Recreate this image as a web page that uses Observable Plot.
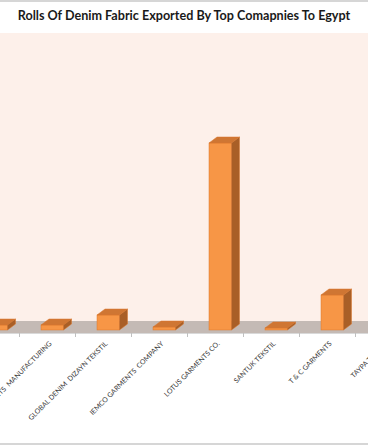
<!DOCTYPE html>
<html><head><meta charset="utf-8">
<script src="https://cdn.jsdelivr.net/npm/d3@7"></script>
<script src="https://cdn.jsdelivr.net/npm/@observablehq/plot@0.6"></script>
<style>
html,body{margin:0;padding:0;background:#fff;}
#chart{width:368px;height:445px;box-sizing:border-box;border-top:2px solid #d6d6d6;border-bottom:2px solid #d6d6d6;overflow:hidden;position:relative;background:#fff;}
#title{height:31px;box-sizing:border-box;padding-top:6px;line-height:16px;text-align:center;font:bold 12.6px Lato, sans-serif;color:#1a1a1a;white-space:nowrap;}
#chart svg{display:block;}
</style></head><body>
<div id="chart"><div id="title">Rolls Of Denim Fabric Exported By Top Comapnies To Egypt</div></div>
<script>
// categories (the chart is cropped: first and last are only partly visible)
const companies = [
  "ARTISTIC DENIM MILLS",
  "GARMENTS  MANUFACTURING",
  "GLOBAL DENIM  DIZAYN TEKSTIL",
  "IEMCO GARMENTS  COMPANY",
  "LOTUS GARMENTS CO.",
  "SANTUK TEKSTIL",
  "T & C GARMENTS",
  "TAYPA TEKSTIL"
];
// series values
const rolls = [25, 25, 75, 15, 935, 10, 175, 20];

const data = companies.map((c, i) => ({company: c, rolls: rolls[i]}));

const WALL = "#fdf0ea", FLOOR = "#c4bab5";
const FRONT = "#f79646", TOP = "#cf7633", SIDE = "#a95f27", EDGE = "#d9772c";
const INL = 22, INR = 11.5, DX = 8, DY = 6;

function scene(index, scales, values, dim) {
  const {width, height, marginBottom} = dim;
  const floorBottom = height - marginBottom;
  const floorTop = floorBottom - 12;
  const g = d3.create("svg:g");
  g.append("rect").attr("x", 0).attr("y", 0).attr("width", width).attr("height", floorTop).attr("fill", WALL);
  g.append("rect").attr("x", 0).attr("y", floorTop).attr("width", width).attr("height", floorBottom - floorTop).attr("fill", FLOOR);
  g.append("line").attr("x1", 0).attr("x2", width).attr("y1", floorBottom + 0.5).attr("y2", floorBottom + 0.5).attr("stroke", "#d9d9d9");
  for (const c of companies) {
    const xb = Math.round(scales.x(c)) + 0.5;
    g.append("line").attr("x1", xb).attr("x2", xb).attr("y1", floorBottom).attr("y2", floorBottom + 4).attr("stroke", "#c0c0c0");
  }
  return g.node();
}

function faces(index, scales) {
  const g = d3.create("svg:g");
  const bw = scales.x(companies[1]) - scales.x(companies[0]);
  for (const d of data) {
    const x1 = scales.x(d.company) + INL, x2 = scales.x(d.company) + bw - INR;
    const yT = scales.y(d.rolls), yB = scales.y(0);
    g.append("polygon")
      .attr("points", [[x1, yT], [x2, yT], [x2 + DX, yT - DY], [x1 + DX, yT - DY]].map(p => p.join(",")).join(" "))
      .attr("fill", TOP).attr("stroke", EDGE).attr("stroke-width", 0.5);
    g.append("polygon")
      .attr("points", [[x2, yT], [x2 + DX, yT - DY], [x2 + DX, yB - DY], [x2, yB]].map(p => p.join(",")).join(" "))
      .attr("fill", SIDE).attr("stroke", EDGE).attr("stroke-width", 0.5);
  }
  return g.node();
}

const chart = Plot.plot({
  width: 368,
  height: 410,
  marginTop: 0,
  marginLeft: 0,
  marginRight: 0,
  marginBottom: 110,
  style: {fontFamily: "Lato, sans-serif", background: "transparent"},
  x: {type: "band", domain: companies, range: [-39.67, 413.67], padding: 0, axis: null},
  y: {domain: [0, 1000], range: [297, 97], axis: null},
  marks: [
    scene,
    Plot.barY(data, {x: "company", y: "rolls", insetLeft: INL, insetRight: INR, fill: FRONT, stroke: EDGE, strokeWidth: 0.5}),
    faces,
    Plot.text(data, {x: "company", text: "company", frameAnchor: "bottom", rotate: -45, textAnchor: "end", lineAnchor: "middle", dx: 3, dy: 9, fontSize: 7, fill: "#3a3a3a"})
  ]
});
document.getElementById("chart").appendChild(chart);
</script>
</body></html>
